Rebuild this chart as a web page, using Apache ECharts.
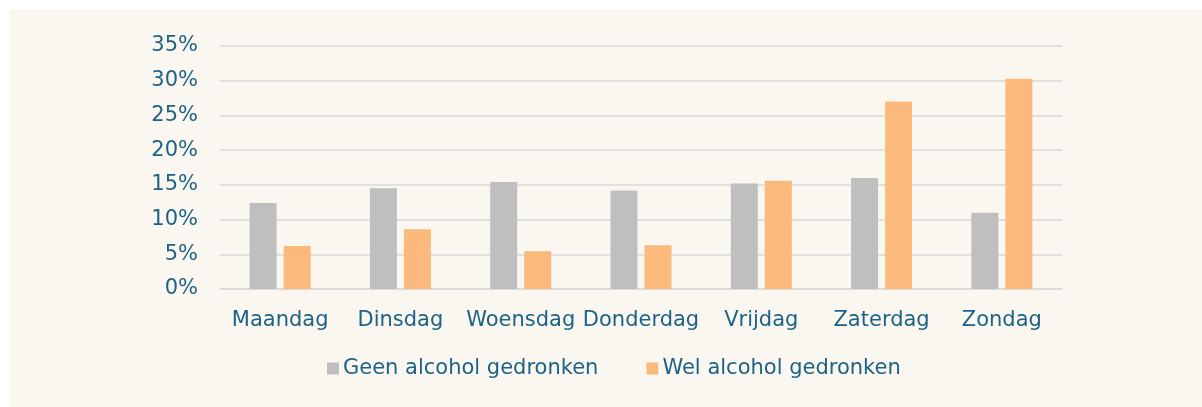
<!DOCTYPE html>
<html>
<head>
<meta charset="utf-8">
<script src="https://cdn.jsdelivr.net/npm/echarts@6/dist/echarts.min.js"></script>
<style>
  html, body { margin: 0; padding: 0; background: #ffffff; }
  #bg { position: absolute; left: 9px; top: 9px; width: 1193px; height: 398px; background: #faf7f0; }
  #chart { position: absolute; left: 0; top: 0; width: 1202px; height: 407px; }
</style>
</head>
<body>
<div id="bg"></div>
<div id="chart"></div>
<script>
const categories = ['Maandag', 'Dinsdag', 'Woensdag', 'Donderdag', 'Vrijdag', 'Zaterdag', 'Zondag'];
const seriesNames = ['Geen alcohol gedronken', 'Wel alcohol gedronken'];
const geenValues = [12.4, 14.5, 15.4, 14.2, 15.2, 16.0, 11.0];
const welValues = [6.2, 8.6, 5.45, 6.3, 15.6, 27.0, 30.3];
const yTicks = [0, 5, 10, 15, 20, 25, 30, 35];

const textColor = '#1e6386';
const fontFamily = '"DejaVu Sans", Verdana, sans-serif';

const chart = echarts.init(document.getElementById('chart'), null, { renderer: 'canvas' });
chart.setOption({
  animation: false,
  backgroundColor: 'transparent',
  textStyle: { fontFamily: fontFamily },
  grid: { left: 220, right: 140, top: 46, bottom: 118, containLabel: false },
  legend: {
    data: seriesNames,
    left: 327,
    top: 358,
    padding: 0,
    itemWidth: 12,
    itemHeight: 12,
    itemGap: 48,
    icon: 'rect',
    textStyle: { color: textColor, fontSize: 21, fontFamily: fontFamily, padding: [0, 0, 0, -1] }
  },
  xAxis: {
    type: 'category',
    data: categories,
    axisTick: { show: false },
    axisLine: { show: true, lineStyle: { color: '#d9d9d9', width: 1.5 } },
    axisLabel: { color: textColor, fontSize: 21, fontFamily: fontFamily, margin: 21, interval: 0 }
  },
  yAxis: {
    type: 'value',
    min: yTicks[0],
    max: yTicks[yTicks.length - 1],
    interval: 5,
    axisLine: { show: false },
    axisTick: { show: false },
    splitLine: { lineStyle: { color: '#d9d9d9', width: 1.5 } },
    axisLabel: { color: textColor, fontSize: 21, fontFamily: fontFamily, margin: 22, formatter: '{value}%' }
  },
  series: [
    {
      name: seriesNames[0], type: 'bar', data: geenValues,
      barWidth: 27, barGap: '26%',
      itemStyle: { color: '#bfbfbf' }
    },
    {
      name: seriesNames[1], type: 'bar', data: welValues,
      barWidth: 27, barGap: '26%',
      itemStyle: { color: '#fbb97b' }
    }
  ]
});
</script>
</body>
</html>
